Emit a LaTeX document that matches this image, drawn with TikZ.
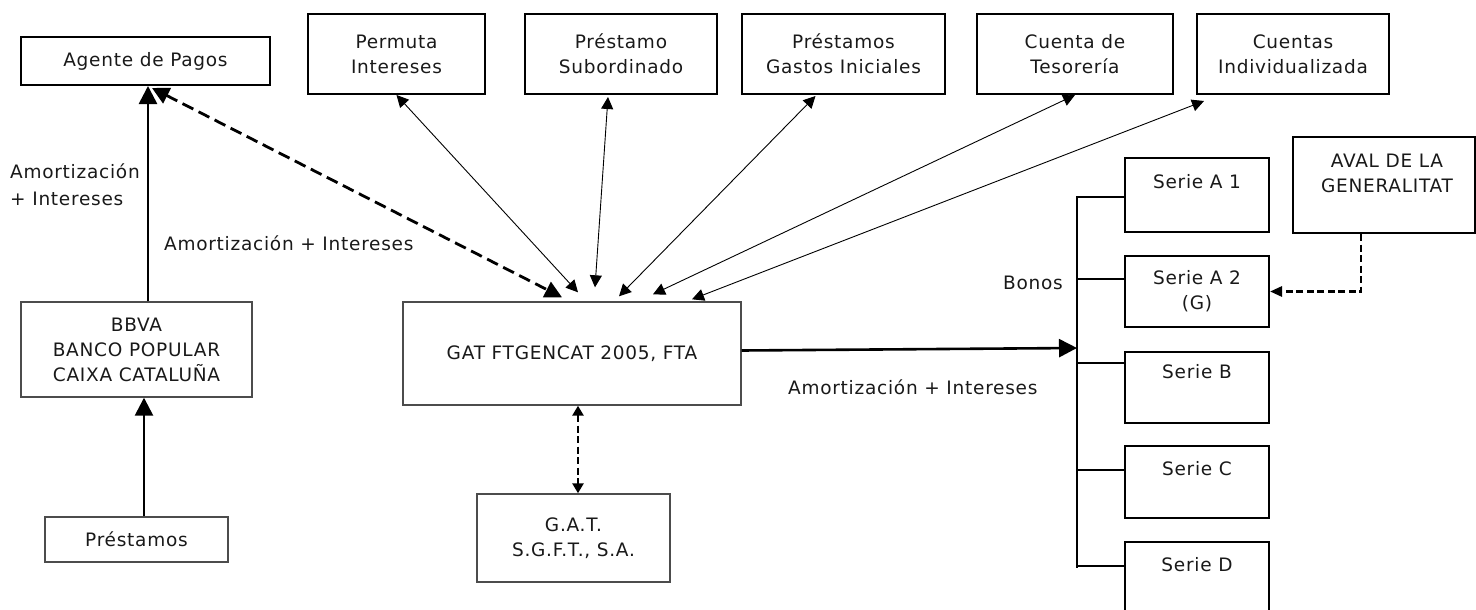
\documentclass[tikz,border=0pt]{standalone}
\usepackage{fontspec}
\setmainfont{DejaVu Sans}[LetterSpace=4]
\usetikzlibrary{arrows.meta,calc}
\newcommand{\fs}{\fontsize{18.5}{25}\selectfont}
\begin{document}
\begin{tikzpicture}[x=1pt,y=-1pt,
  bx/.style={draw=black, line width=2pt, inner sep=0pt, align=center, font=\fs, text=black!90},
  gbx/.style={draw=black!70, line width=1.4pt, inner sep=0pt, align=center, font=\fs, text=black!90},
  lbl/.style={inner sep=0pt, font=\fs, text=black!90},
  thickarr/.style={line width=2.6pt, -{Triangle[length=18pt,width=18pt]}},
  thinarr/.style={line width=0.9pt, {Triangle[length=12pt,width=12pt]}-{Triangle[length=12pt,width=12pt]}},
  bigdash/.style={line width=2.8pt, dash pattern=on 12pt off 6pt, {Triangle[length=17pt,width=17pt]}-{Triangle[length=17pt,width=17pt]}},
  smalldash/.style={line width=2.8pt, dash pattern=on 7pt off 3.5pt},
  tick/.style={line width=1.3pt}
]
\useasboundingbox (0,0) rectangle (1476,610);
% boxes
\node[bx, minimum width=249pt, minimum height=48pt] (agente) at (145.5,61) {Agente de Pagos};
\node[bx, minimum width=177pt, minimum height=80pt] (perm) at (396.5,54) {Permuta\\Intereses};
\node[bx, minimum width=192pt, minimum height=80pt] (psub) at (621,54) {Préstamo\\Subordinado};
\node[bx, minimum width=203pt, minimum height=80pt] (pgas) at (843.5,54) {Préstamos\\Gastos Iniciales};
\node[bx, minimum width=196pt, minimum height=80pt] (ctes) at (1075,54) {Cuenta de\\Tesorería};
\node[bx, minimum width=192pt, minimum height=80pt] (cind) at (1293,54) {Cuentas\\Individualizada};
\node[bx, minimum width=182pt, minimum height=96pt] (aval) at (1384,185) {};
\node[lbl, align=center] at ($(aval.north)+(3,37)$) {AVAL DE LA\\GENERALITAT};
\node[gbx, minimum width=231pt, minimum height=95pt] (bbva) at (136.5,349.5) {BBVA\\BANCO POPULAR\\CAIXA CATALUÑA};
\node[gbx, minimum width=183pt, minimum height=45pt] (prest) at (136.5,539.5) {Préstamos};
\node[gbx, minimum width=338pt, minimum height=103pt] (gat) at (572,353.5) {GAT FTGENCAT 2005, FTA};
\node[gbx, minimum width=193pt, minimum height=88pt] (sgft) at (573.5,538) {G.A.T.\\S.G.F.T., S.A.};
% series
\node[bx, minimum width=144pt, minimum height=74pt] (a1) at (1197,195) {};
\node[bx, minimum width=144pt, minimum height=71pt] (a2) at (1197,291.5) {};
\node[bx, minimum width=144pt, minimum height=71pt] (sb) at (1197,387.5) {};
\node[bx, minimum width=144pt, minimum height=72pt] (sc) at (1197,482) {};
\node[bx, minimum width=144pt, minimum height=72pt] (sd) at (1197,578) {};
\node[lbl] at ($(a1.north)+(0,25)$) {Serie A 1};
\node[lbl, align=center] at ($(a2.north)+(0,36)$) {Serie A 2\\(G)};
\node[lbl] at ($(sb.north)+(0,21)$) {Serie B};
\node[lbl] at ($(sc.north)+(0,24)$) {Serie C};
\node[lbl] at ($(sd.north)+(0,24)$) {Serie D};
% labels
\node[lbl, align=left, anchor=west] (l1) at (10,184.5) {Amortización\\[2pt]+ Intereses};
\node[lbl, anchor=west] (l2) at (164,243) {Amortización + Intereses};
\node[lbl, anchor=east] (l3) at (1063,283) {Bonos};
\node[lbl, anchor=west] (l4) at (788,387) {Amortización + Intereses};
% bracket
\coordinate (bt) at (1077,196);
\coordinate (bb) at (1077,568);
\coordinate (bin) at (1077,348);
\draw[line width=2.3pt] (bt) -- (bb);
\draw[tick] (a1.west |- 0,197) -- (bt |- 0,197);
\draw[tick] (a2.west |- 0,279) -- (bt |- 0,279);
\draw[tick] (sb.west |- 0,363) -- (bt |- 0,363);
\draw[tick] (sc.west |- 0,470) -- (bt |- 0,470);
\draw[tick] (sd.west |- 0,566) -- (bt |- 0,566);
% connectors
\draw[thickarr] ($(bbva.north)+(11.5,0)$) -- ($(agente.south)+(2.5,0)$);
\draw[thickarr] ($(prest.north)+(7.5,0)$) -- ($(bbva.south)+(7.5,0)$);
\draw[thickarr] ($(gat.east)+(0,-3)$) -- (bin);
\draw[bigdash] ($(agente.south)+(6.5,2)$) -- ($(gat.north)+(-10,-4)$);
\draw[smalldash, {Triangle[length=10pt,width=11pt]}-{Triangle[length=10pt,width=11pt]}] ($(gat.south)+(6,0)$) -- ($(sgft.north)+(4.5,0)$);
\draw[smalldash, -{Triangle[length=12pt,width=10pt]}] ($(aval.south west)+(69,0)$) |- (a2.east);
\draw[thinarr] (perm.south) -- ($(gat.north)+(6,-9)$);
\draw[thinarr] ($(psub.south)+(-13,2)$) -- ($(gat.north)+(23,-14)$);
\draw[thinarr] ($(pgas.south)+(-28,1)$) -- ($(gat.north)+(47,-5)$);
\draw[thinarr] (ctes.south) -- ($(gat.north)+(81,-7)$);
\draw[thinarr] ($(cind.south west)+(8,6)$) -- ($(gat.north)+(120,-2)$);
\end{tikzpicture}
\end{document}
